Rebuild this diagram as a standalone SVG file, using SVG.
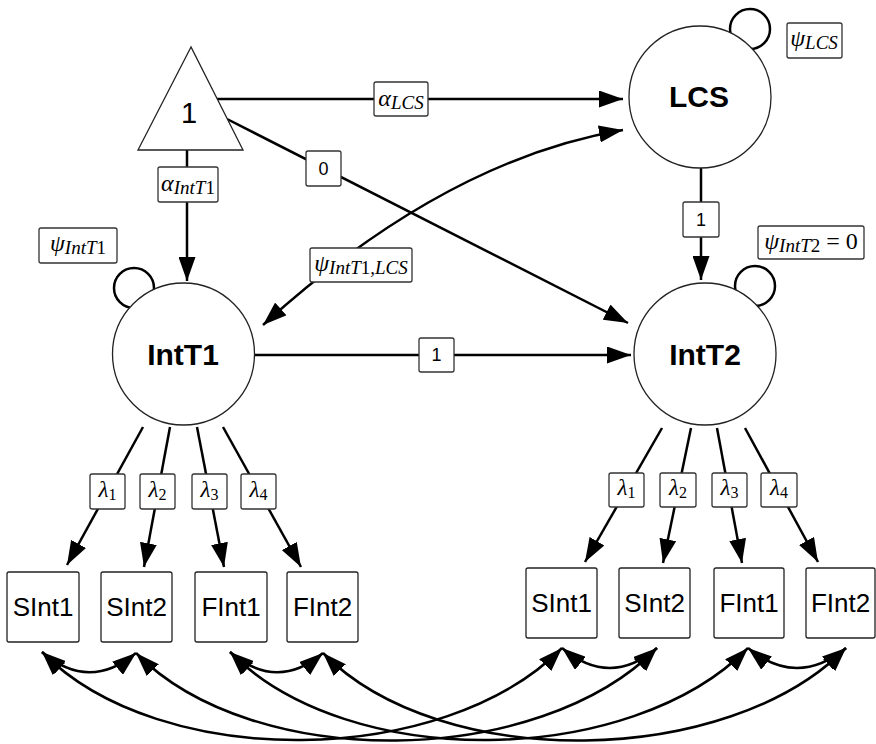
<svg xmlns="http://www.w3.org/2000/svg" width="876" height="744" viewBox="0 0 876 744">
  <style>
    .edge { fill: none; stroke: #000; stroke-width: 2.5; }
    .loop { fill: none; stroke: #000; stroke-width: 2.5; }
    .head { marker-end: url(#ah); }
    .both { marker-start: url(#ah); marker-end: url(#ah); }
    .lbl { fill: #fff; stroke: #333; stroke-width: 1.3; }
    .node { fill: #fff; stroke: #222; stroke-width: 1.3; }
    .big { font-family: "Liberation Sans", Arial, sans-serif; font-weight: bold; font-size: 30px; text-anchor: middle; }
    .obs { font-family: "Liberation Sans", Arial, sans-serif; font-size: 26px; text-anchor: middle; }
    .num { font-family: "Liberation Sans", Arial, sans-serif; font-size: 18px; text-anchor: middle; }
    .math { font-family: "Liberation Serif", "Times New Roman", serif; font-style: italic; font-size: 24px; text-anchor: middle; }
    .sub { font-size: 19px; }
    .up { font-style: normal; }
    .lam { font-family: "Liberation Serif", "Times New Roman", serif; font-style: italic; font-size: 23px; text-anchor: middle; }
    .lsub { font-size: 16px; font-style: normal; }
  </style>
  <defs>
    <marker id="ah" viewBox="0 0 24 17" refX="24" refY="8.5" markerWidth="24" markerHeight="17" markerUnits="userSpaceOnUse" orient="auto-start-reverse">
      <path d="M0,0 L24,8.5 L0,17 Z" fill="#000"/>
    </marker>
  </defs>

  <g id="connectors">
    <!-- variance loops (drawn under the latent circles) -->
    <circle class="loop" cx="750" cy="29" r="20"/>
    <circle class="loop" cx="134" cy="288" r="20"/>
    <circle class="loop" cx="755" cy="286" r="20"/>

    <!-- structural paths -->
    <line class="edge head" x1="217" y1="99" x2="623" y2="99"/>
    <line class="edge head" x1="227" y1="119" x2="628" y2="323"/>
    <line class="edge head" x1="187" y1="150" x2="187" y2="281"/>
    <line class="edge head" x1="701" y1="168" x2="701" y2="280"/>
    <line class="edge head" x1="255" y1="355" x2="631" y2="355"/>
    <path class="edge both" d="M263,325 Q445,160 623,130"/>

    <!-- loadings, time 1 -->
    <line class="edge head" x1="143" y1="427" x2="67" y2="565"/>
    <line class="edge head" x1="170" y1="427" x2="144" y2="567"/>
    <line class="edge head" x1="197" y1="427" x2="224" y2="567"/>
    <line class="edge head" x1="223" y1="427" x2="301" y2="567"/>
    <!-- loadings, time 2 -->
    <line class="edge head" x1="662" y1="428" x2="585" y2="562"/>
    <line class="edge head" x1="691" y1="428" x2="663" y2="563"/>
    <line class="edge head" x1="717" y1="428" x2="742" y2="563"/>
    <line class="edge head" x1="745" y1="428" x2="818" y2="562"/>

    <!-- residual covariances within occasion -->
    <path class="edge both" d="M42,652 Q89,692 136,653"/>
    <path class="edge both" d="M230,652 Q277,692 323,653"/>
    <path class="edge both" d="M562,648 Q610,688 657,648"/>
    <path class="edge both" d="M748,648 Q797,688 846,648"/>
    <!-- residual covariances across occasions -->
    <path class="edge both" d="M42,652 C160,772 444,768 562,648"/>
    <path class="edge both" d="M136,653 C254,773 539,768 657,648"/>
    <path class="edge both" d="M230,652 C348,772 630,768 748,648"/>
    <path class="edge both" d="M323,653 C441,773 728,768 846,648"/>

    <!-- path labels -->
    <rect class="lbl" x="374" y="82" width="54" height="34" rx="2"/>
    <text class="math" x="401" y="106">α<tspan class="sub" dy="3">LCS</tspan></text>

    <rect class="lbl" x="306" y="151" width="35" height="35" rx="2"/>
    <text class="num" x="323.5" y="175">0</text>

    <rect class="lbl" x="158" y="167" width="60" height="35" rx="2"/>
    <text class="math" x="188" y="191">α<tspan class="sub" dy="3">IntT<tspan class="up">1</tspan></tspan></text>

    <rect class="lbl" x="310" y="248" width="102" height="34" rx="2"/>
    <text class="math" x="361" y="271">ψ<tspan class="sub" dy="3">IntT<tspan class="up">1</tspan>,LCS</tspan></text>

    <rect class="lbl" x="683" y="202" width="36" height="35" rx="2"/>
    <text class="num" x="701" y="226">1</text>

    <rect class="lbl" x="419" y="338" width="35" height="34" rx="2"/>
    <text class="num" x="436.5" y="361">1</text>

    <!-- variance labels -->
    <rect class="lbl" x="787" y="23" width="55" height="35" rx="2"/>
    <text class="math" x="814" y="46">ψ<tspan class="sub" dy="3">LCS</tspan></text>

    <rect class="lbl" x="39" y="228" width="78" height="35" rx="2"/>
    <text class="math" x="78" y="251">ψ<tspan class="sub" dy="3">IntT<tspan class="up">1</tspan></tspan></text>

    <rect class="lbl" x="758" y="226" width="106" height="33" rx="2"/>
    <text class="math" x="811" y="249">ψ<tspan class="sub" dy="3">IntT<tspan class="up">2</tspan></tspan><tspan class="up" dy="-3" dx="6">=</tspan><tspan class="up" dx="6">0</tspan></text>

    <!-- loading labels -->
    <rect class="lbl" x="90" y="474" width="35" height="35" rx="2"/>
    <text class="lam" x="107.5" y="497">λ<tspan class="lsub" dy="3">1</tspan></text>
    <rect class="lbl" x="140" y="474" width="35" height="35" rx="2"/>
    <text class="lam" x="157.5" y="497">λ<tspan class="lsub" dy="3">2</tspan></text>
    <rect class="lbl" x="192" y="474" width="35" height="35" rx="2"/>
    <text class="lam" x="209.5" y="497">λ<tspan class="lsub" dy="3">3</tspan></text>
    <rect class="lbl" x="241" y="474" width="35" height="35" rx="2"/>
    <text class="lam" x="258.5" y="497">λ<tspan class="lsub" dy="3">4</tspan></text>

    <rect class="lbl" x="609" y="473" width="35" height="34" rx="2"/>
    <text class="lam" x="626.5" y="495">λ<tspan class="lsub" dy="3">1</tspan></text>
    <rect class="lbl" x="660" y="473" width="36" height="34" rx="2"/>
    <text class="lam" x="678" y="495">λ<tspan class="lsub" dy="3">2</tspan></text>
    <rect class="lbl" x="712" y="473" width="35" height="34" rx="2"/>
    <text class="lam" x="729.5" y="495">λ<tspan class="lsub" dy="3">3</tspan></text>
    <rect class="lbl" x="761" y="473" width="36" height="34" rx="2"/>
    <text class="lam" x="779" y="495">λ<tspan class="lsub" dy="3">4</tspan></text>
  </g>

  <!-- constant -->
  <g id="one">
    <polygon class="node" points="191,47 138,150 243,150"/>
    <text class="obs" x="189" y="123" style="font-size:29px">1</text>
  </g>

  <!-- latent variables -->
  <g id="LCS">
    <circle class="node" cx="700" cy="97" r="71"/>
    <text class="big" x="699" y="107">LCS</text>
  </g>
  <g id="IntT1">
    <circle class="node" cx="183.5" cy="354" r="71"/>
    <text class="big" x="183" y="365">IntT1</text>
  </g>
  <g id="IntT2">
    <circle class="node" cx="705" cy="354" r="71"/>
    <text class="big" x="705" y="365">IntT2</text>
  </g>

  <!-- indicators, time 1 -->
  <g id="SInt1_T1">
    <rect class="node" x="7" y="572" width="72" height="70" rx="2"/>
    <text class="obs" x="43" y="616">SInt1</text>
  </g>
  <g id="SInt2_T1">
    <rect class="node" x="101" y="572" width="71" height="70" rx="2"/>
    <text class="obs" x="136.5" y="616">SInt2</text>
  </g>
  <g id="FInt1_T1">
    <rect class="node" x="195" y="572" width="72" height="70" rx="2"/>
    <text class="obs" x="231" y="616">FInt1</text>
  </g>
  <g id="FInt2_T1">
    <rect class="node" x="287" y="572" width="71" height="70" rx="2"/>
    <text class="obs" x="322.5" y="616">FInt2</text>
  </g>

  <!-- indicators, time 2 -->
  <g id="SInt1_T2">
    <rect class="node" x="526" y="568" width="71" height="70" rx="2"/>
    <text class="obs" x="561.5" y="612">SInt1</text>
  </g>
  <g id="SInt2_T2">
    <rect class="node" x="619" y="568" width="71" height="70" rx="2"/>
    <text class="obs" x="654.5" y="612">SInt2</text>
  </g>
  <g id="FInt1_T2">
    <rect class="node" x="714" y="568" width="70" height="70" rx="2"/>
    <text class="obs" x="749" y="612">FInt1</text>
  </g>
  <g id="FInt2_T2">
    <rect class="node" x="806" y="568" width="69" height="70" rx="2"/>
    <text class="obs" x="840.5" y="612">FInt2</text>
  </g>
</svg>
